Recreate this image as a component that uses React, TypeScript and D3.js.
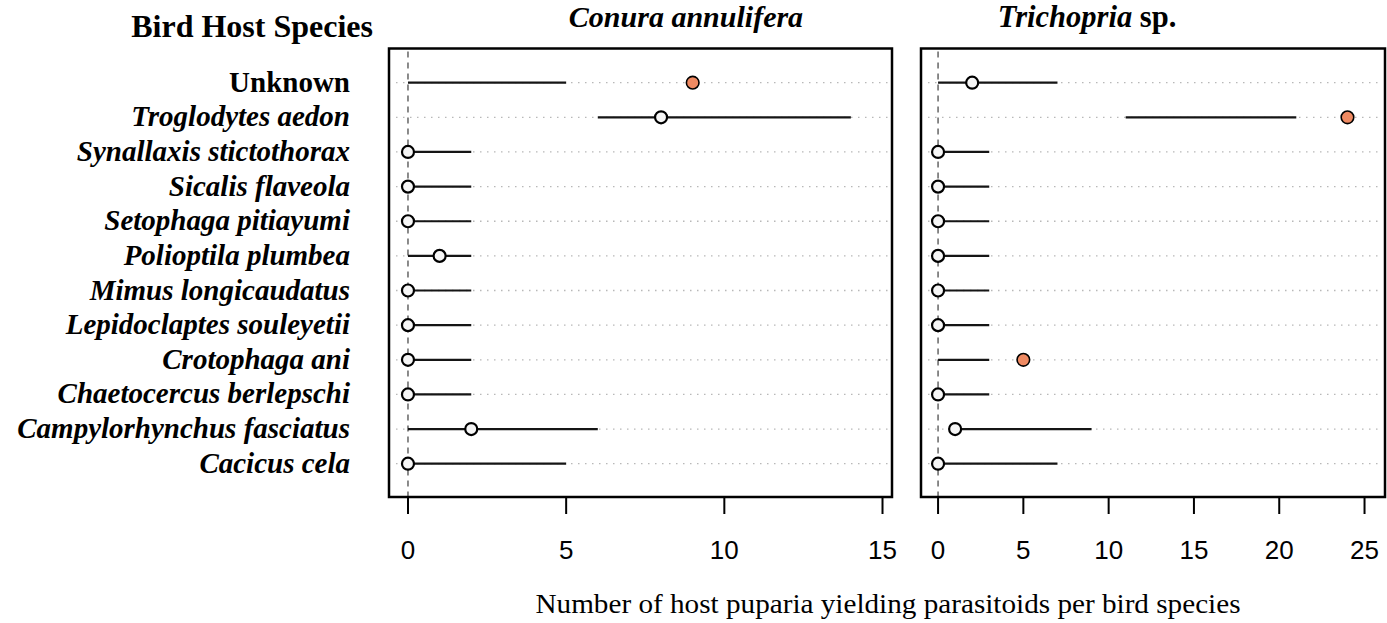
import React from 'react';
import * as d3 from 'd3';

const species = [
  'Unknown',
  'Troglodytes aedon',
  'Synallaxis stictothorax',
  'Sicalis flaveola',
  'Setophaga pitiayumi',
  'Polioptila plumbea',
  'Mimus longicaudatus',
  'Lepidoclaptes souleyetii',
  'Crotophaga ani',
  'Chaetocercus berlepschi',
  'Campylorhynchus fasciatus',
  'Cacicus cela',
];

// Conura annulifera: observed count and null interval
const conuraObs = [9, 8, 0, 0, 0, 1, 0, 0, 0, 0, 2, 0];
const conuraLow = [0, 6, 0, 0, 0, 0, 0, 0, 0, 0, 0, 0];
const conuraHigh = [5, 14, 2, 2, 2, 2, 2, 2, 2, 2, 6, 5];

// Trichopria sp.
const trichObs = [2, 24, 0, 0, 0, 0, 0, 0, 5, 0, 1, 0];
const trichLow = [0, 11, 0, 0, 0, 0, 0, 0, 0, 0, 1, 0];
const trichHigh = [7, 21, 3, 3, 3, 3, 3, 3, 3, 3, 9, 7];

const conuraTicks = [0, 5, 10, 15];
const trichTicks = [0, 5, 10, 15, 20, 25];

const W = 1387;
const H = 623;
const top = 48.5;
const bottom = 497;
const serif = '"Liberation Serif", "Times New Roman", serif';
const sans = '"Liberation Sans", Arial, sans-serif';
const orange = '#ef8a62';

const y = d3.scalePoint<string>().domain(species).range([82.7, 463.7]);

const Panel = ({ x, obs, low, high, ticks }: any) => {
  const [x0, x1] = x.range();
  return (
    <g>
      {species.map((s, i) => (
        <line key={'g' + s} x1={x0 + 7} x2={x1 - 2} y1={y(s)} y2={y(s)}
          stroke="#b8b8b8" strokeWidth={1.3} strokeDasharray="1.5,5.5" />
      ))}
      <line x1={x(0)} x2={x(0)} y1={top + 3} y2={bottom} stroke="#666"
        strokeWidth={1.5} strokeDasharray="6,5" />
      {species.map((s, i) => (
        <line key={'r' + s} x1={x(low[i])} x2={x(high[i])} y1={y(s)} y2={y(s)}
          stroke="#151515" strokeWidth={2.2} />
      ))}
      {species.map((s, i) => {
        const out = obs[i] > high[i] || obs[i] < low[i];
        return (
          <circle key={'p' + s} cx={x(obs[i])} cy={y(s)} r={out ? 6.3 : 6}
            fill={out ? orange : '#f6f6f6'} stroke="#000" strokeWidth={out ? 1.6 : 2.2} />
        );
      })}
      <rect x={x0} y={top} width={x1 - x0} height={bottom - top} fill="none"
        stroke="#000" strokeWidth={2.5} />
      {ticks.map((t: number) => (
        <g key={t}>
          <line x1={x(t)} x2={x(t)} y1={bottom} y2={bottom + 17} stroke="#000" strokeWidth={2} />
          <text x={x(t)} y={559} textAnchor="middle" fontFamily={sans} fontSize={26}>{t}</text>
        </g>
      ))}
    </g>
  );
};

export default function App() {
  const xLeft = d3.scaleLinear().domain([-0.6, 15.3]).range([389, 892]);
  const xRight = d3.scaleLinear().domain([-1.0, 26.2]).range([921, 1385]);

  return (
    <div style={{ position: 'absolute', left: 0, top: 0 }}>
      <svg width={W} height={H} style={{ display: 'block', background: '#fff' }}>
        <text x={373} y={37} textAnchor="end" fontFamily={serif} fontWeight="bold" fontSize={32}>
          Bird Host Species
        </text>
        {species.map((s, i) => (
          <text key={s} x={350} y={(y(s) as number) + 9} textAnchor="end" fontFamily={serif}
            fontWeight="bold" fontStyle={i === 0 ? 'normal' : 'italic'} fontSize={29}>
            {s}
          </text>
        ))}
        <text x={686} y={27} textAnchor="middle" fontFamily={serif} fontWeight="bold"
          fontStyle="italic" fontSize={30}>
          Conura annulifera
        </text>
        <text x={1087} y={27} textAnchor="middle" fontFamily={serif} fontWeight="bold" fontSize={30.5}>
          <tspan fontStyle="italic">Trichopria</tspan> sp.
        </text>
        <Panel x={xLeft} obs={conuraObs} low={conuraLow} high={conuraHigh} ticks={conuraTicks} />
        <Panel x={xRight} obs={trichObs} low={trichLow} high={trichHigh} ticks={trichTicks} />
        <text x={888} y={613} textAnchor="middle" fontFamily={serif} fontSize={28}
          textLength={705} lengthAdjust="spacingAndGlyphs">
          Number of host puparia yielding parasitoids per bird species
        </text>
      </svg>
    </div>
  );
}
